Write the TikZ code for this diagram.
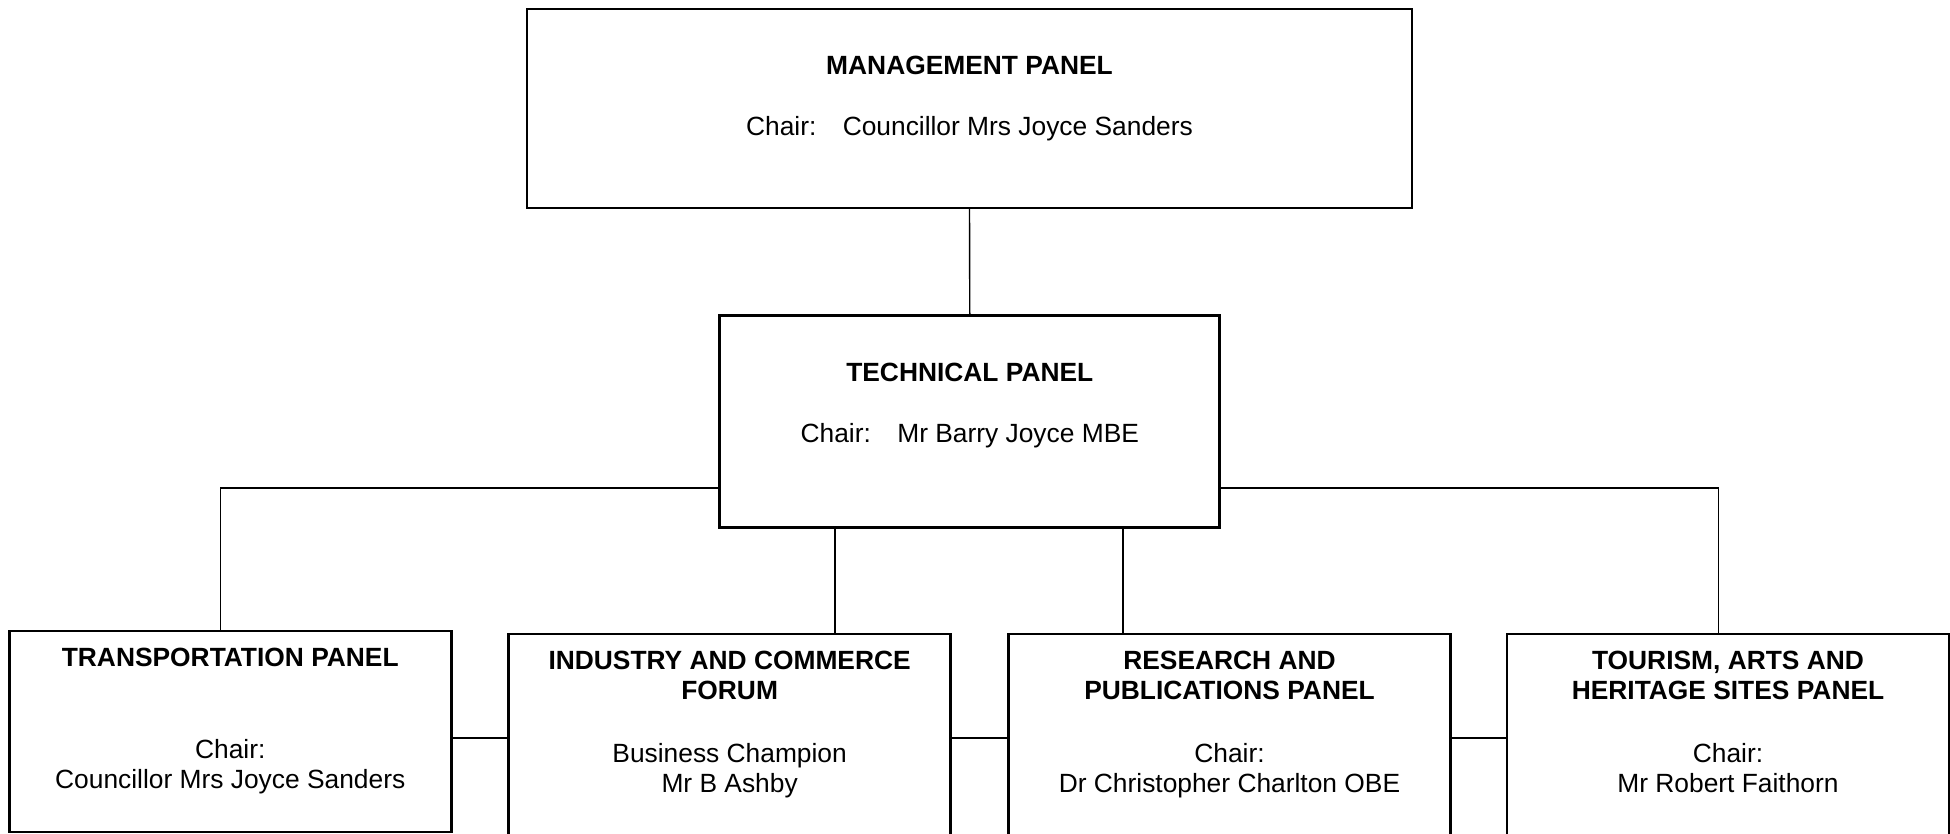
\documentclass[tikz,border=0pt]{standalone}
\usepackage{fontspec}
\setmainfont{Liberation Sans}
\usetikzlibrary{positioning}

\begin{document}
\begin{tikzpicture}[panel/.style={draw,line width=0.75pt,inner sep=0pt,outer sep=0pt},
  wide/.style={minimum width=4.42cm,minimum height=2.01cm},
  paneltext/.style={align=center,inner sep=0pt,outer sep=0pt,font=\fontsize{7.5}{8.5}\selectfont},
  link/.style={line width=0.4pt}]
\useasboundingbox (0,0) rectangle (19.5,8.33);
% upper panels
\node[panel,minimum width=8.85cm,minimum height=1.99cm] (mgmt) at (9.695,7.245) {};
\node[panel,minimum width=5cm,minimum height=2.12cm] (tech) at (9.698,4.113) {};
% lower row
\node[panel,wide] (trans) at (2.3025,1.015) {};
\node[panel,wide] (ind) at (7.2965,0.985) {};
\node[panel,wide] (res) at (12.295,0.985) {};
\node[panel,wide] (tour) at (17.28,0.985) {};
% texts
\node[paneltext,below=0.47cm of mgmt.north] (mgmt text)
  {\textbf{MANAGEMENT PANEL}\\[9pt] Chair:\quad Councillor Mrs Joyce Sanders};
\node[paneltext,below=0.47cm of tech.north] (tech text)
  {\textbf{TECHNICAL PANEL}\\[9pt] Chair:\quad Mr Barry Joyce MBE};
\node[paneltext,below=0.17cm of trans.north] (trans text)
  {\textbf{TRANSPORTATION PANEL}\\[17.7pt] Chair:\\ Councillor Mrs Joyce Sanders};
\node[paneltext,below=0.17cm of ind.north] (ind text)
  {\textbf{INDUSTRY AND COMMERCE}\\ \textbf{FORUM}\\[9.5pt] Business Champion\\ Mr B Ashby};
\node[paneltext,below=0.17cm of res.north] (res text)
  {\textbf{RESEARCH AND}\\ \textbf{PUBLICATIONS PANEL}\\[9.5pt] Chair:\\ Dr Christopher Charlton OBE};
\node[paneltext,below=0.17cm of tour.north] (tour text)
  {\textbf{TOURISM, ARTS AND}\\ \textbf{HERITAGE SITES PANEL}\\[9.5pt] Chair:\\ Mr Robert Faithorn};
% connectors
\coordinate (branch) at (0,3.45);
\coordinate (mid) at (0,0.95);
\draw[link] (mgmt.south) -- (tech.north);
\draw[link] (tech.west |- branch) -| ([xshift=-0.1cm]trans.north);
\draw[link] (tech.east |- branch) -| ([xshift=-0.093cm]tour.north);
\draw[link] ([xshift=-1.35cm]tech.south) -- ([xshift=-1.35cm]tech.south |- ind.north);
\draw[link] ([xshift=1.53cm]tech.south) -- ([xshift=1.53cm]tech.south |- res.north);
\foreach \a/\b in {trans/ind,ind/res,res/tour}
  \draw[link] (\a.east |- mid) -- (\b.west |- mid);
\end{tikzpicture}
\end{document}
